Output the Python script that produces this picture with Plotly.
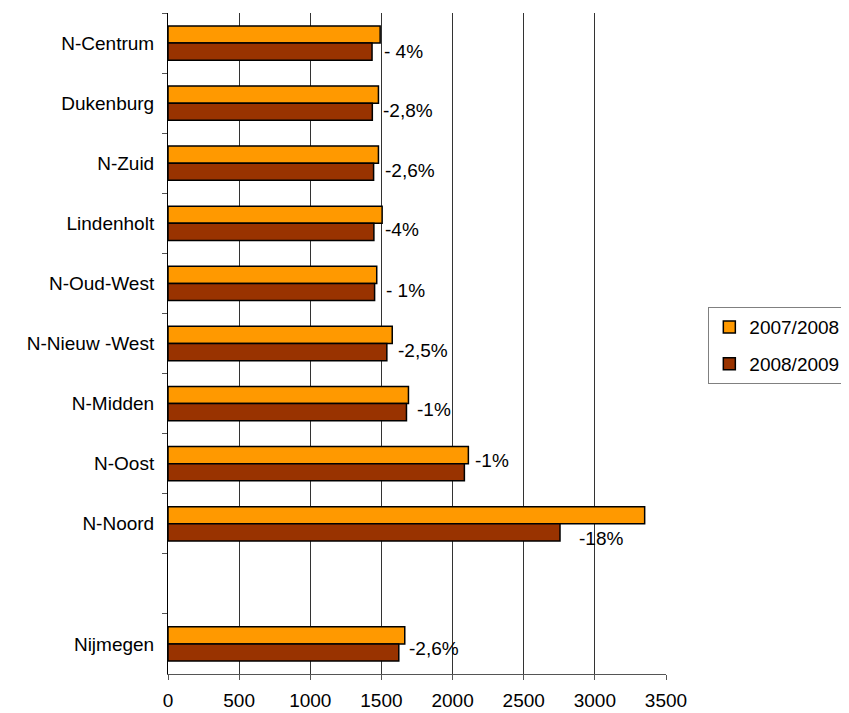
import plotly.graph_objects as go

# areas, top to bottom (blank slot between N-Noord and Nijmegen)
areas = ["N-Centrum", "Dukenburg", "N-Zuid", "Lindenholt", "N-Oud-West",
         "N-Nieuw -West", "N-Midden", "N-Oost", "N-Noord", " ", "Nijmegen"]
y2007 = [1491, 1479, 1479, 1505, 1467, 1576, 1690, 2111, 3350, None, 1664]
y2008 = [1434, 1436, 1445, 1447, 1452, 1538, 1676, 2083, 2755, None, 1622]
change = ["- 4%", "-2,8%", "-2,6%", "-4%", "- 1%", "-2,5%", "-1%", "-1%",
          "-18%", "", "-2,6%"]

# label nudges (px) so the text sits where the original put it
dx = [10, 9, 9, 9, 9, 9, 9, 9, 17, 0, 8]
dy = [-8, -7, -7, -6, -7, -7, -6, 3, -15, 0, -5]

font = "Liberation Sans, Arial, sans-serif"
fs = 19

fig = go.Figure()
fig.add_trace(go.Bar(
    y=areas, x=y2007, name="2007/2008", orientation="h",
    marker=dict(color="#FF9900", line=dict(color="black", width=1.5)),
    legendgroup="a",
))
fig.add_trace(go.Bar(
    y=areas, x=y2008, name="2008/2009", orientation="h",
    marker=dict(color="#993300", line=dict(color="black", width=1.5)),
    legendgroup="b",
))

for i, a in enumerate(areas):
    if not change[i]:
        continue
    fig.add_annotation(
        x=y2008[i], y=a, text=change[i], showarrow=False,
        xanchor="left", yanchor="middle", xshift=dx[i], yshift=dy[i],
        font=dict(family=font, size=fs, color="black"),
    )

# page body has an 8px margin, so the figure is a bit smaller than the window
fig.update_layout(
    width=841, height=705,
    margin=dict(l=160, r=183, t=5, b=39, autoexpand=False),
    paper_bgcolor="white", plot_bgcolor="white",
    barmode="group", bargap=0.43, bargroupgap=0,
    font=dict(family=font, size=fs, color="black"),
    showlegend=True,
    legend=dict(
        x=1.085, y=0.555, xanchor="left", yanchor="top",
        bordercolor="#808080", borderwidth=1,
        font=dict(family=font, size=fs),
        tracegroupgap=9, itemclick=False, itemwidth=30,
    ),
    xaxis=dict(
        range=[0, 3500], dtick=500, tick0=0,
        showgrid=True, gridcolor="#333333", gridwidth=1,
        showline=True, linecolor="#555555", linewidth=1,
        ticks="outside", ticklen=5, tickcolor="#555555",
        ticklabelstandoff=4, zeroline=False, automargin=False,
    ),
    yaxis=dict(
        categoryorder="array", categoryarray=areas, autorange="reversed",
        showline=True, linecolor="black", linewidth=1,
        ticks="outside", ticklen=5, tickcolor="#555555",
        tickson="boundaries", ticklabelstandoff=9, showgrid=False,
        automargin=False,
    ),
)

fig.write_html("out.html")
